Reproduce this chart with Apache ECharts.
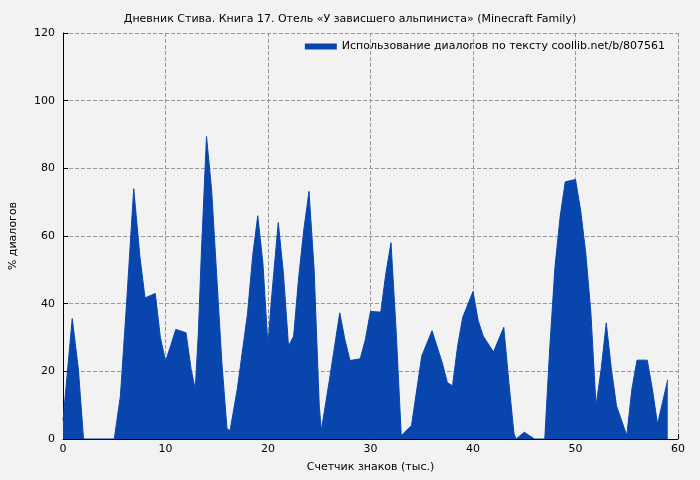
<!DOCTYPE html>
<html><head><meta charset="utf-8">
<script src="https://cdn.jsdelivr.net/npm/echarts@6/dist/echarts.min.js"></script>
<style>html,body{margin:0;background:#f2f2f2}#c{width:700px;height:480px}</style>
</head><body><div id="c"></div>
<script>
var xs = [0,0.9,1.5,2,5,5.6,6.2,6.9,7.5,8,9,9.5,10,10.5,11,12,12.5,12.9,13.2,13.5,14,14.5,15,15.5,16,16.3,17,18,18.5,19,19.5,20,20.3,21,21.5,22,22.5,23,23.5,24,24.5,25,25.2,26,27,27.5,28,29,29.5,30,31,31.5,32,32.5,33,34,35,36,37,37.5,38,38.5,39,40,40.5,41,42,42.5,43,43.5,44,44.2,45,46,47,47.5,48,48.5,49,50,50.5,51,51.5,52,52.5,53,53.5,54,55,55.5,56,57,57.5,58,59];
var ys = [5.4,35.6,20.6,0,0,12.7,40,74,54,41.7,43,30,23,27.5,32.4,31.4,20.6,14.7,31,55,89.4,73.5,48,22.5,3,2.5,14.7,37,54,66,52,27.5,40,64,49,27.5,30.4,48,62,73.2,50,9.8,2.5,17.6,37.3,29.4,23.2,23.7,29.4,37.7,37.5,49,58,32,1,4,24.5,32,22.5,16.7,15.7,27.5,36,43.6,35,30.4,25.7,29.4,33,16.7,1.5,0,2,0,0,27.5,51,65.7,76,76.7,67.6,55,37.3,9.8,20.6,34.3,20.6,9.8,1,14.7,23.3,23.3,14.7,4.4,17.5];
var seriesName = 'Использование диалогов по тексту coollib.net/b/807561';

var chart = echarts.init(document.getElementById('c'));
var font = 'DejaVu Sans';
chart.setOption({
	backgroundColor: '#f2f2f2',
	animation: false,
	textStyle: { fontFamily: font },
	title: {
		text: 'Дневник Стива. Книга 17. Отель «У зависшего альпиниста» (Minecraft Family)',
		left: 'center', top: 9,
		textStyle: { fontSize: 11, fontWeight: 'normal', color: '#000', fontFamily: font }
	},
	legend: {
		right: 30, top: 36, itemWidth: 32, itemHeight: 6, itemGap: 6,
		icon: 'rect',
		textStyle: { fontSize: 11, color: '#000', fontFamily: font },
		data: [seriesName]
	},
	grid: { left: 61, right: 22, top: 33, bottom: 41 },
	xAxis: {
		type: 'value', min: 0, max: 60, interval: 10,
		name: 'Счетчик знаков (тыс.)', nameLocation: 'middle', nameGap: 23,
		nameTextStyle: { fontSize: 11, color: '#000' },
		axisLine: { lineStyle: { color: '#000' } },
		axisTick: { inside: true, length: 5, lineStyle: { color: '#000' } },
		axisLabel: { fontSize: 11, color: '#000', margin: 5 },
		splitLine: { show: true, lineStyle: { type: 'dashed', color: '#999' } }
	},
	yAxis: {
		type: 'value', min: 0, max: 120, interval: 20,
		name: '% диалогов', nameLocation: 'middle', nameGap: 44,
		nameTextStyle: { fontSize: 11, color: '#000' },
		axisLine: { show: true, lineStyle: { color: '#000' } },
		axisTick: { show: true, inside: true, length: 5, lineStyle: { color: '#000' } },
		axisLabel: { fontSize: 11, color: '#000', margin: 8 },
		splitLine: { show: true, lineStyle: { type: 'dashed', color: '#999' } }
	},
	series: [{
		name: seriesName,
		type: 'line',
		symbol: 'none',
		color: '#0846ad',
		lineStyle: { width: 1, color: '#0846ad' },
		areaStyle: { color: '#0846ad', opacity: 1 },
		data: xs.map(function (x, i) { return [x, ys[i]]; })
	}]
});
</script>
</body></html>
